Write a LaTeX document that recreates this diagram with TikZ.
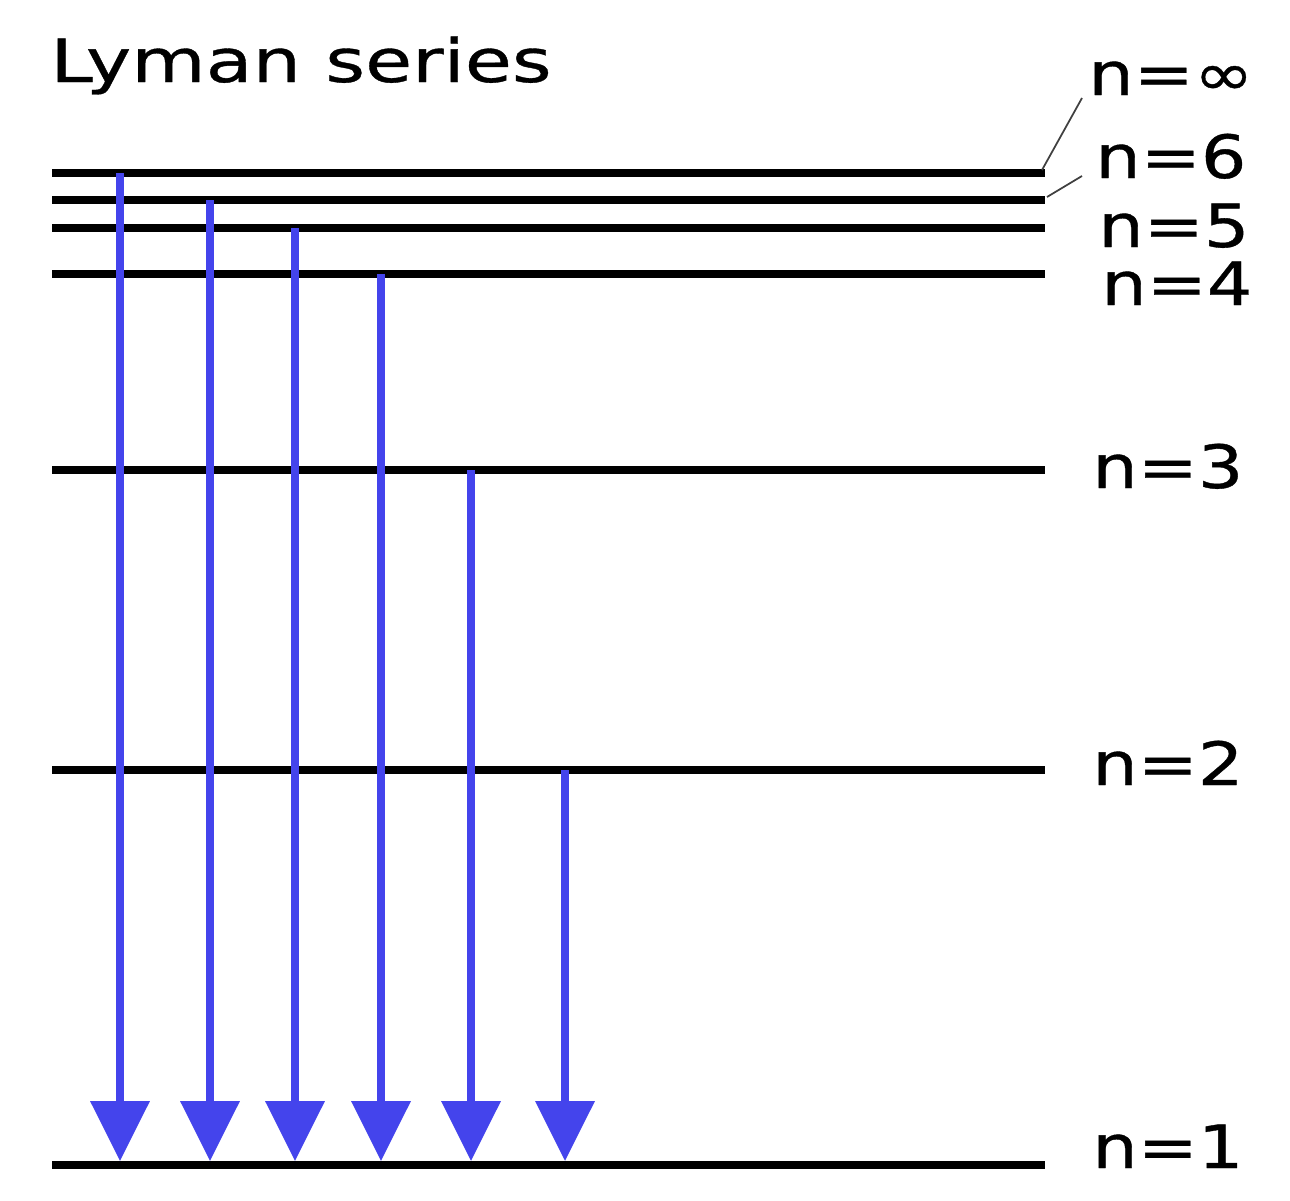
\documentclass[tikz,border=0pt]{standalone}
\usepackage{fontspec}
\setmainfont{DejaVu Sans}[FakeStretch=1.2, FakeBold=0.6]
\newfontfamily\titlefont{DejaVu Sans}[FakeStretch=1.28, FakeBold=0.6]
\usetikzlibrary{arrows.meta}
\definecolor{lymanblue}{RGB}{68,68,236}

\begin{document}
\begin{tikzpicture}[x=0.02cm, y=-0.02cm,
    level/.style={line width=4.6pt, black},
    jump/.style={line width=4.2pt, lymanblue, -{Triangle[length=1.2cm, width=1.16cm]}},
    leader/.style={line width=1pt, black!75},
    every node/.style={font=\fontsize{34}{40}\selectfont, inner sep=0pt}]
            \useasboundingbox (0,0) rectangle (1290,1200);

            % energy levels
            \coordinate (Li) at (52,173);  \coordinate (Ri) at (1045,173);
            \coordinate (L6) at (52,200);  \coordinate (R6) at (1045,200);
            \coordinate (L5) at (52,228);  \coordinate (R5) at (1045,228);
            \coordinate (L4) at (52,274);  \coordinate (R4) at (1045,274);
            \coordinate (L3) at (52,470);  \coordinate (R3) at (1045,470);
            \coordinate (L2) at (52,770);  \coordinate (R2) at (1045,770);
            \coordinate (L1) at (52,1165); \coordinate (R1) at (1045,1165);

            \node[anchor=base west, font=\fontsize{34}{40}\titlefont] (title) at (50,82) {Lyman series};

            \node[anchor=base west] (ni) at (1088,95) {n=∞};
            \node[anchor=base west] (n6) at (1095,178) {n=6};
            \node[anchor=base west] (n5) at (1098,247) {n=5};
            \node[anchor=base west] (n4) at (1101,305) {n=4};
            \node[anchor=base west] (n3) at (1092,488) {n=3};
            \node[anchor=base west] (n2) at (1092,785) {n=2};
            \node[anchor=base west] (n1) at (1092,1168) {n=1};

            \foreach \k in {i,6,5,4,3,2,1}
                \draw[level] (L\k) -- (R\k);

            \coordinate (ti) at (1082,98);
            \coordinate (t6) at (1082,176);
            \draw[leader] (1042,170) -- (ti);
            \draw[leader] (1047,197) -- (t6);

            % transitions down to n=1
            \coordinate (ai) at (120,173);  \coordinate (bi) at (120,1161);
            \coordinate (a6) at (210,200);  \coordinate (b6) at (210,1161);
            \coordinate (a5) at (295,228);  \coordinate (b5) at (295,1161);
            \coordinate (a4) at (381,274);  \coordinate (b4) at (381,1161);
            \coordinate (a3) at (471,470);  \coordinate (b3) at (471,1161);
            \coordinate (a2) at (565,770);  \coordinate (b2) at (565,1161);
            \foreach \k in {i,6,5,4,3,2}
                \draw[jump] (a\k) -- (b\k);
        \end{tikzpicture}
\end{document}
